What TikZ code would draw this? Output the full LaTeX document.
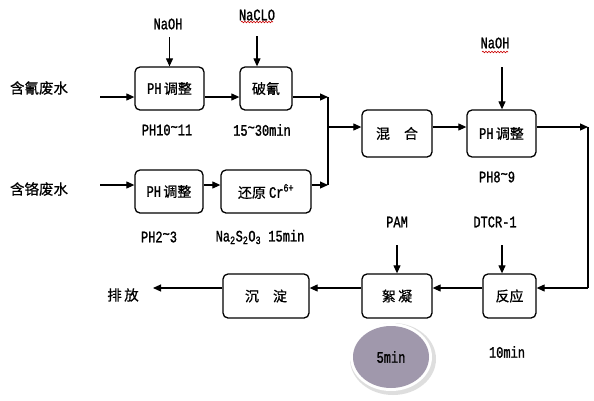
\documentclass[tikz,border=0pt]{standalone}
\usepackage{fontspec}
\newfontfamily\cjk[FakeBold=0.6]{Noto Sans CJK SC}
\newfontfamily\lab[FakeStretch=0.75,FakeBold=1.2]{Liberation Mono}
\usetikzlibrary{arrows.meta,decorations.pathmorphing,calc,shapes.geometric}
\tikzset{
  procbox/.style={draw=black, rounded corners=5pt, line width=1.3pt, inner sep=0pt,
    font=\cjk\fontsize{14}{16}\selectfont},
  arr/.style={-{Triangle[length=8pt,width=7pt]}, line width=1.1pt},
  ln/.style={line width=1.1pt},
  lbl/.style={inner sep=0pt, font=\lab\fontsize{16}{18}\selectfont},
  cnlbl/.style={inner sep=0pt, font=\cjk\fontsize{14.5}{16}\selectfont},
  squig/.style={draw=red!80!black, line width=0.6pt, decorate,
    decoration={snake, amplitude=0.8pt, segment length=3pt}}
}
\newcommand{\ph}{{\lab\fontsize{16}{18}\selectfont PH}\,}
\newcommand{\tl}{\raisebox{0.35ex}{\textasciitilde}}
\begin{document}
\begin{tikzpicture}[x=1pt,y=-1pt]
\useasboundingbox (0,0) rectangle (594,400);
\fill[white] (0,0) rectangle (594,400);

% boxes
\node[procbox, minimum width=69pt, minimum height=43pt] (a1) at (169.5,88.5) {\ph 调整};
\node[procbox, minimum width=52pt, minimum height=43pt] (a2) at (266,88.5) {破氰};
\node[procbox, minimum width=68pt, minimum height=43pt] (b1) at (169,191.5) {\ph 调整};
\node[procbox, minimum width=90pt, minimum height=43pt] (b2) at (266,191.5) {还原 {\lab\fontsize{16}{18}\selectfont Cr\textsuperscript{6+}}};
\node[procbox, minimum width=70pt, minimum height=47pt] (c1) at (397,133.5) {混\quad 合};
\node[procbox, minimum width=69pt, minimum height=47pt] (c2) at (501.5,133.5) {\ph 调整};
\node[procbox, minimum width=53pt, minimum height=44pt] (d1) at (509.5,296) {反应};
\node[procbox, minimum width=70pt, minimum height=44pt] (d2) at (397,296) {絮\,凝};
\node[procbox, minimum width=86pt, minimum height=44pt] (d3) at (266,296) {沉\quad 淀};

% side labels
\node[cnlbl] (w1) at (39,88) {含氰废水};
\node[cnlbl] (w2) at (39,189) {含铬废水};
\node[cnlbl] (out) at (123,295) {排\,放};

% reagent labels
\node[lbl] (r1) at (168,24) {NaOH};
\node[lbl] (r2) at (257,15) {NaCLO};
\node[lbl] (r3) at (495,43) {NaOH};
\node[lbl] (r4) at (397,222) {PAM};
\node[lbl] (r5) at (495,222) {DTCR-1};
\draw[squig] (241,22) -- (273,22);
\draw[squig] (482,52) -- (508,52);

% condition labels
\node[lbl] (t1) at (167,130) {PH10\tl 11};
\node[lbl] (t2) at (262,130) {15\tl 30min};
\node[lbl] (t3) at (159,237) {PH2\tl 3};
\node[lbl] (t4) at (260,237) {Na\textsubscript{2}S\textsubscript{2}O\textsubscript{3} 15min};
\node[lbl] (t5) at (497,177) {PH8\tl 9};
\node[lbl] (t6) at (507,352) {10min};

% 5min ellipse
\fill[black!13] (393,359) ellipse [x radius=43pt, y radius=36pt];
\fill[white] (391,357) ellipse [x radius=41pt, y radius=34pt];
\node[ellipse, fill={rgb,255:red,160;green,152;blue,172}, minimum width=76pt, minimum height=62pt, inner sep=0pt, font=\lab\fontsize{16}{18}\selectfont] (e) at (391,357) {5min};

% coordinates
\coordinate (in1) at (100,97);
\coordinate (in2) at (100,185);
\coordinate (j1) at (328,97);
\coordinate (j2) at (328,185);
\coordinate (jm) at (328,127);
\coordinate (k1) at (588,127);
\coordinate (k2) at (588,288);
\coordinate (o) at (153,288);
\coordinate (s1) at (169.5,37);
\coordinate (s2) at (257,36);
\coordinate (s3) at (502,67);
\coordinate (s4) at (397,245);
\coordinate (s5) at (502,245);

% reagent arrows
\draw[arr] (s1) -- (a1.north);
\draw[arr] (s2) -- (s2 |- a2.north);
\draw[arr] (s3) -- (s3 |- c2.north);
\draw[arr] (s4) -- (d2.north);
\draw[arr] (s5) -- (s5 |- d1.north);

% flows
\draw[arr] (in1) -- (in1 -| a1.west);
\draw[arr] ([yshift=-8.5pt]a1.east) -- ([yshift=-8.5pt]a2.west);
\draw[arr] ([yshift=-8.5pt]a2.east) -- (j1);
\draw[arr] (in2) -- (in2 -| b1.west);
\draw[arr] ([yshift=6.5pt]b1.east) -- ([yshift=6.5pt]b2.west);
\draw[arr] ([yshift=6.5pt]b2.east) -- (j2);
\draw[ln] (j1) -- (j2);
\draw[arr] (jm) -- (jm -| c1.west);
\draw[arr] ([yshift=6.5pt]c1.east) -- ([yshift=6.5pt]c2.west);
\draw[arr] ([yshift=6.5pt]c2.east) -- (k1);
\draw[ln] (k1) -- (k2);
\draw[arr] (k2) -- (k2 -| d1.east);
\draw[arr] ([yshift=8pt]d1.west) -- ([yshift=8pt]d2.east);
\draw[arr] ([yshift=8pt]d2.west) -- ([yshift=8pt]d3.east);
\draw[arr] ([yshift=8pt]d3.west) -- (o);
\end{tikzpicture}
\end{document}
